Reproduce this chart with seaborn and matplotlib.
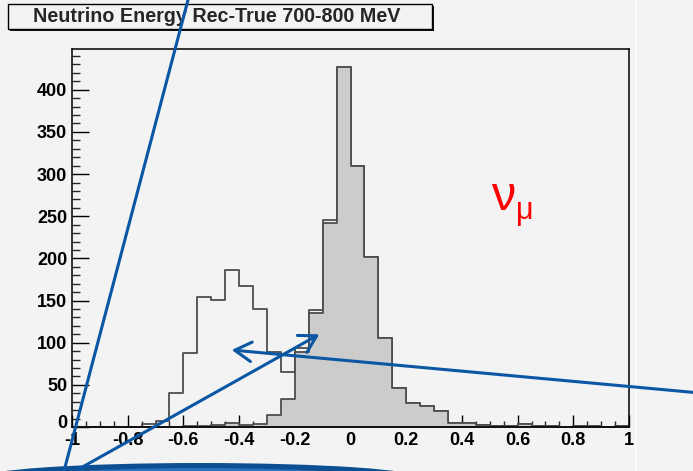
import numpy as np
import pandas as pd
import matplotlib
matplotlib.use("Agg")
import matplotlib.pyplot as plt
import seaborn as sns
from matplotlib.lines import Line2D
from matplotlib.patches import Rectangle, Ellipse, FancyArrowPatch, ArrowStyle
from matplotlib.ticker import MultipleLocator, FixedLocator, FixedFormatter
from matplotlib.transforms import ScaledTranslation

# Histogram binning: 40 bins of width 0.05 on [-1, 1]
bin_edges = [round(v, 3) for v in np.linspace(-1.0, 1.0, 41)]
bin_centers = [(a + b) / 2 for a, b in zip(bin_edges[:-1], bin_edges[1:])]

# All events (open histogram), counts per bin from -1 to 1
all_events = [0, 0, 0, 0, 0, 3, 7, 40, 88, 154,
              151, 186, 167, 140, 89, 65, 94, 139, 245, 427,
              309, 202, 106, 46, 28, 25, 19, 5, 5, 2,
              1, 1, 3, 1, 1, 0, 1, 1, 0, 1]
# Selected subset (filled histogram)
subset_events = [0, 0, 0, 0, 0, 0, 0, 0, 1, 1,
                 2, 5, 2, 3, 14, 33, 89, 135, 242, 427,
                 309, 202, 106, 46, 28, 25, 19, 5, 5, 2,
                 1, 1, 3, 1, 1, 0, 1, 1, 0, 1]

x_tick_values = [-1, -0.8, -0.6, -0.4, -0.2, 0, 0.2, 0.4, 0.6, 0.8, 1]
x_tick_labels = ["-1", "-0.8", "-0.6", "-0.4", "-0.2", "0", "0.2", "0.4", "0.6", "0.8", "1"]
y_tick_values = [0, 50, 100, 150, 200, 250, 300, 350, 400]
y_tick_labels = ["0", "50", "100", "150", "200", "250", "300", "350", "400"]

title_text = "Neutrino Energy Rec-True 700-800 MeV"

W, H = 693, 471
BG = "#f3f3f3"
BLUE = "#0b57a4"
EDGE = "#4d4d4d"

sns.set_theme(style="ticks")
plt.rcParams["font.family"] = ["Liberation Sans", "DejaVu Sans"]
plt.rcParams["font.weight"] = "bold"


def fx(px):
    return px / W


def fy(py):
    return 1 - py / H


df = pd.DataFrame({"center": bin_centers, "all": all_events, "subset": subset_events})

fig = plt.figure(figsize=(W / 100, H / 100), dpi=100, facecolor=BG)
ax = fig.add_axes([fx(72), fy(427), (629 - 72) / W, (427 - 49) / H])
ax.set_facecolor(BG)

sns.histplot(data=df, x="center", weights="all", bins=bin_edges, element="step",
             fill=True, color=EDGE, facecolor="none", edgecolor=EDGE,
             linewidth=1.3, ax=ax)
sns.histplot(data=df, x="center", weights="subset", bins=bin_edges, element="step",
             fill=True, color="#cccccc", facecolor="#cccccc", edgecolor=EDGE,
             linewidth=1.3, ax=ax)

ax.set_xlim(-1, 1)
ax.set_ylim(0, 448.35)
ax.set_xlabel("")
ax.set_ylabel("")

ax.xaxis.set_major_locator(FixedLocator(x_tick_values))
ax.xaxis.set_major_formatter(FixedFormatter(x_tick_labels))
ax.xaxis.set_minor_locator(MultipleLocator(0.05))
ax.yaxis.set_major_locator(FixedLocator(y_tick_values))
ax.yaxis.set_major_formatter(FixedFormatter(y_tick_labels))
ax.yaxis.set_minor_locator(MultipleLocator(10))

ax.tick_params(axis="x", which="major", direction="in", length=8.6, width=1,
               labelsize=13, pad=3.5, colors="black", bottom=True, top=False)
ax.tick_params(axis="x", which="minor", direction="in", length=4, width=1,
               bottom=True, top=False)
ax.tick_params(axis="y", which="major", direction="in", length=12.5, width=1,
               labelsize=13, pad=3.5, colors="black", left=True, right=False)
ax.tick_params(axis="y", which="minor", direction="in", length=6, width=1,
               left=True, right=False)
for lab in ax.get_xticklabels() + ax.get_yticklabels():
    lab.set_fontweight("bold")

# Lift the zero label on the y axis clear of the "-1" below it
zero_label = ax.yaxis.get_major_ticks()[0].label1
zero_label.set_transform(zero_label.get_transform()
                         + ScaledTranslation(0, 6 / 100, fig.dpi_scale_trans))

for side in ["left", "right", "top", "bottom"]:
    ax.spines[side].set_visible(True)
    ax.spines[side].set_color("black")
    ax.spines[side].set_linewidth(1.1)

# Title pave with shadow
fig.add_artist(Rectangle((fx(10), fy(30.5)), fx(424), (30.5 - 6) / H,
                         transform=fig.transFigure, facecolor="#111111",
                         edgecolor="none", zorder=5))
fig.add_artist(Rectangle((fx(8), fy(28.5)), fx(424), (28.5 - 4) / H,
                         transform=fig.transFigure, facecolor=BG,
                         edgecolor="black", linewidth=1, zorder=6))
fig.text(fx(217), fy(17), title_text, ha="center", va="center",
         fontsize=14.2, fontweight="bold", zorder=7)

# Particle label
fig.text(fx(491), fy(210), "ν", color="red", fontsize=35, fontweight="normal",
         ha="left", va="baseline", zorder=7)
fig.text(fx(516), fy(219), "μ", color="red", fontsize=22, fontweight="normal",
         ha="left", va="baseline", zorder=7)

# Canvas edge
fig.add_artist(Line2D([fx(636), fx(636)], [0, 1], transform=fig.transFigure,
                      color="#fcfcfc", linewidth=1.2, zorder=1))

# Annotation strokes
fig.add_artist(Line2D([fx(190.1), fx(61.9)], [fy(-8), fy(479)],
                      transform=fig.transFigure, color=BLUE, linewidth=2.2,
                      solid_capstyle="butt", zorder=10))

head = ArrowStyle("->", head_length=12.0, head_width=7.0)
fig.add_artist(FancyArrowPatch((fx(75.3), fy(471)), (fx(319.3), fy(334.3)),
                               transform=fig.transFigure, arrowstyle=head,
                               mutation_scale=1, color=BLUE, linewidth=2.2,
                               shrinkA=0, shrinkB=0, zorder=10))
fig.add_artist(FancyArrowPatch((fx(700), fy(393)), (fx(231.7), fy(350)),
                               transform=fig.transFigure, arrowstyle=head,
                               mutation_scale=1, color=BLUE, linewidth=2.2,
                               shrinkA=0, shrinkB=0, zorder=10))

# Swoosh at the bottom edge
fig.add_artist(Ellipse((fx(200), fy(478)), 440 / W, 30 / H,
                       transform=fig.transFigure, facecolor="#0d4f93",
                       edgecolor="none", zorder=9))
fig.add_artist(Ellipse((fx(200), fy(483)), 400 / W, 30 / H,
                       transform=fig.transFigure, facecolor="#2a72bd",
                       edgecolor="none", zorder=9))

fig.savefig("out.png", dpi=100, facecolor=BG)
